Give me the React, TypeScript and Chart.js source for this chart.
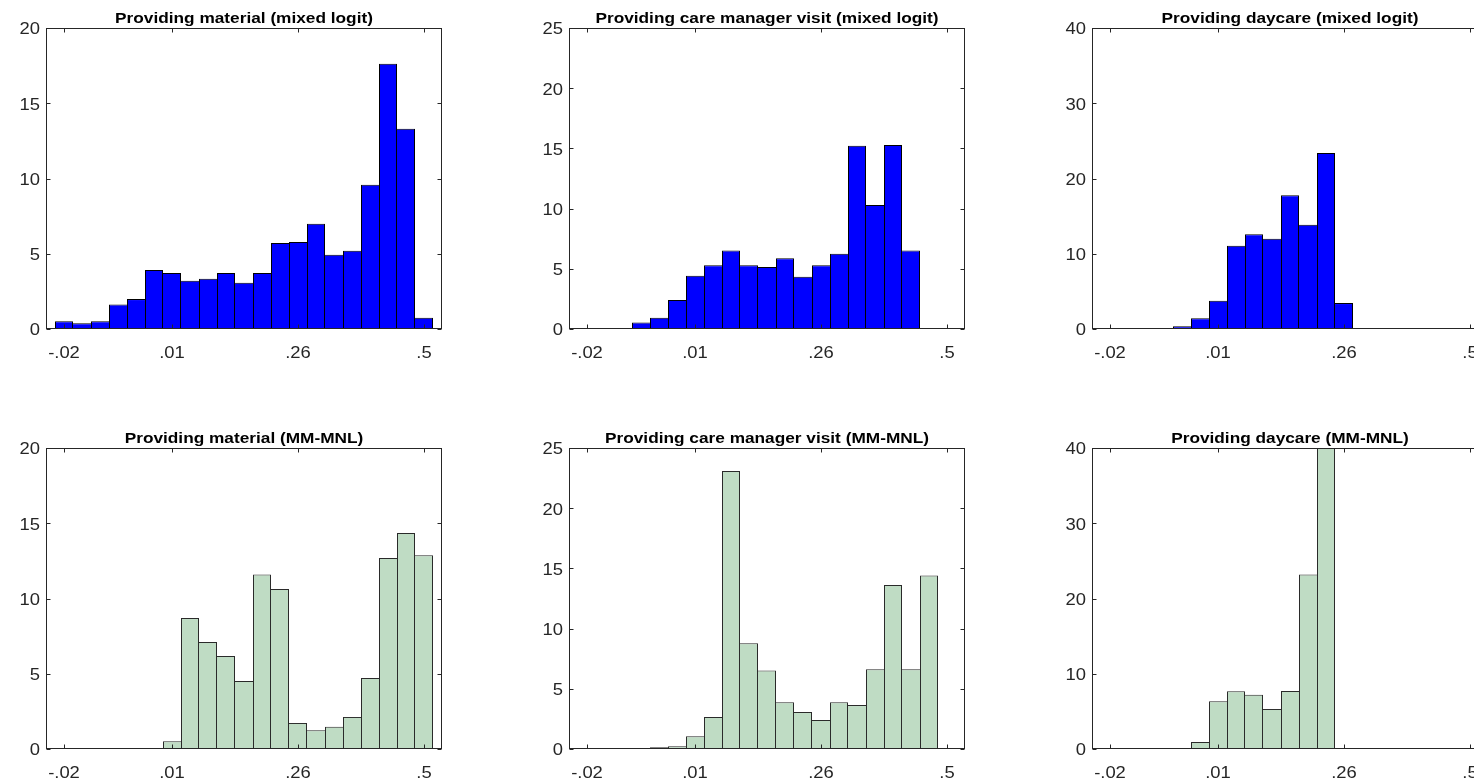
import React, { useEffect, useRef } from "react";
import { Chart, registerables } from "chart.js";

Chart.register(...registerables);

// ---- data ----
const binIndex = [0, 1, 2, 3, 4, 5, 6, 7, 8, 9, 10, 11, 12, 13, 14, 15, 16, 17, 18, 19, 20];
const xTickPositions = [0, 6, 13, 20];
const xTickLabels = ["-.02", ".01", ".26", ".5"];

const materialMixed = [0.51, 0.38, 0.51, 1.62, 1.99, 3.92, 3.72, 3.21, 3.34, 3.72, 3.08, 3.72, 5.71, 5.78, 7.0, 4.94, 5.2, 9.59, 17.63, 13.31, 0.75];
const careMixed = [0, 0.08, 0.08, 0.55, 0.94, 2.41, 4.43, 5.29, 6.51, 5.29, 5.15, 5.87, 4.35, 5.29, 6.26, 15.23, 10.3, 15.28, 6.51, 0, 0];
const daycareMixed = [0, 0, 0, 0.13, 0.35, 1.42, 3.77, 11.07, 12.6, 12.0, 17.76, 13.86, 23.39, 3.45, 0.1, 0, 0, 0, 0, 0, 0];
const materialMM = [0, 0, 0, 0, 0, 0, 0.51, 8.7, 7.11, 6.18, 4.52, 11.6, 10.63, 1.73, 1.24, 1.48, 2.13, 4.72, 12.69, 14.35, 12.87];
const careMM = [0, 0, 0, 0, 0.14, 0.22, 1.05, 2.66, 23.09, 8.78, 6.51, 3.88, 3.07, 2.41, 3.88, 3.65, 6.62, 13.62, 6.62, 14.42, 0];
const daycareMM = [0, 0, 0, 0, 0, 0.93, 6.33, 7.66, 7.22, 5.32, 7.71, 23.2, 41.6, 0, 0, 0, 0, 0, 0, 0, 0];

const titles = [
  "Providing material (mixed logit)",
  "Providing care manager visit (mixed logit)",
  "Providing daycare (mixed logit)",
  "Providing material (MM-MNL)",
  "Providing care manager visit (MM-MNL)",
  "Providing daycare (MM-MNL)",
];
const yMaxes = [20, 25, 40];
const ySteps = [5, 5, 10];

// ---- style / layout ----
const BLUE = "#0000FF";
const GREEN = "rgb(191,220,196)";
const AXIS_COLOR = "#262626";
const TEXT_COLOR = "#262626";
const FONT = '"Liberation Sans", Arial, Helvetica, sans-serif';
const HSCALE = 1.15;
const PLOT_LEFTS = [46, 569, 1092];
const PLOT_TOPS = [28, 448];
const Y_AXIS_W = 46;
const PLOT_W = 396;
const PLOT_H = 301;
const TITLE_H = 28;
const X_AXIS_H = 45;
const RIGHT_PAD = 8;

function stretchedText(ctx: any, text: string, x: number, y: number, align: string) {
  ctx.save();
  ctx.translate(x, y);
  ctx.scale(HSCALE, 1);
  ctx.textAlign = align;
  ctx.fillText(text, 0, 0);
  ctx.restore();
}

const boxPlugin = {
  id: "matlabBox",
  afterDraw(chart: any, _args: any, opts: any) {
    const { ctx, chartArea: a, scales } = chart;
    ctx.save();
    ctx.strokeStyle = AXIS_COLOR;
    ctx.lineWidth = 1;
    const L = Math.round(a.left) + 0.5;
    const R = Math.round(a.right) - 0.5;
    const T = Math.round(a.top) + 0.5;
    const B = Math.round(a.bottom) - 0.5;
    const line = (x1: number, y1: number, x2: number, y2: number) => {
      ctx.beginPath();
      ctx.moveTo(x1, y1);
      ctx.lineTo(x2, y2);
      ctx.stroke();
    };
    ctx.strokeRect(L, T, R - L, B - T);
    const tl = 4;
    // x ticks + labels
    ctx.fillStyle = TEXT_COLOR;
    ctx.font = `16px ${FONT}`;
    ctx.textBaseline = "alphabetic";
    scales.x.ticks.forEach((t: any, i: number) => {
      const x = scales.x.getPixelForValue(t.value);
      const px = Math.round(x) + 0.5;
      line(px, T, px, T + tl);
      line(px, B, px, B - tl);
      stretchedText(ctx, String(t.label), x, a.bottom + 29, "center");
    });
    // y ticks + labels
    ctx.textBaseline = "middle";
    scales.y.ticks.forEach((t: any) => {
      const y = scales.y.getPixelForValue(t.value);
      const py = Math.round(y) + 0.5;
      line(L, py, L + tl, py);
      line(R, py, R - tl, py);
      stretchedText(ctx, String(t.label), a.left - 6, y + 2, "right");
    });
    // title
    ctx.fillStyle = "#000";
    ctx.font = `bold 15px ${FONT}`;
    ctx.textBaseline = "alphabetic";
    stretchedText(ctx, opts.text, (a.left + a.right) / 2, a.top - 5.5, "center");
    ctx.restore();
  },
};

type PanelProps = {
  title: string;
  values: number[];
  fill: string;
  edge: string;
  yMax: number;
  yStep: number;
  left: number;
  top: number;
};

function Panel({ title, values, fill, edge, yMax, yStep, left, top }: PanelProps) {
  const ref = useRef<HTMLCanvasElement | null>(null);
  const W = Y_AXIS_W + PLOT_W + RIGHT_PAD;
  const H = TITLE_H + PLOT_H + X_AXIS_H;

  useEffect(() => {
    if (!ref.current) return;
    const vals = values;
    const chart = new Chart(ref.current, {
      type: "bar",
      data: {
        datasets: [
          {
            data: vals.map((v, i) => ({ x: binIndex[i], y: v })),
            backgroundColor: fill,
            borderColor: edge,
            borderWidth: (c: any) => {
              const i = c.dataIndex;
              const v = vals[i];
              const prev = i > 0 ? vals[i - 1] : null;
              const next = i < vals.length - 1 ? vals[i + 1] : null;
              return {
                top: 1,
                bottom: 1,
                left: prev === null || prev <= v ? 1 : 0,
                right: next === null || next < v ? 1 : 0,
              };
            },
            borderSkipped: false,
            inflateAmount: 0,
            barPercentage: 1,
            categoryPercentage: 1,
            clip: { left: 2, right: 2, top: 0, bottom: 2 },
          } as any,
        ],
      },
      options: {
        responsive: false,
        animation: false,
        devicePixelRatio: 1,
        layout: { padding: { left: 0, right: RIGHT_PAD, top: TITLE_H, bottom: 0 }, autoPadding: false },
        plugins: {
          legend: { display: false },
          title: { display: false },
          tooltip: { enabled: false },
          matlabBox: { text: title },
        } as any,
        scales: {
          x: {
            type: "linear",
            min: -1,
            max: 21,
            offset: false,
            grid: { display: false, drawTicks: false },
            border: { display: false },
            afterBuildTicks: (s: any) => {
              s.ticks = xTickPositions.map((v) => ({ value: v }));
            },
            afterFit: (s: any) => {
              s.height = X_AXIS_H;
            },
            ticks: {
              display: false,
              autoSkip: false,
              maxRotation: 0,
              minRotation: 0,
              callback: (_v: any, idx: number) => xTickLabels[idx],
            },
          },
          y: {
            type: "linear",
            min: 0,
            max: yMax,
            grid: { display: false, drawTicks: false },
            border: { display: false },
            afterFit: (s: any) => {
              s.width = Y_AXIS_W;
            },
            ticks: {
              display: false,
              stepSize: yStep,
            },
          },
        },
      } as any,
      plugins: [boxPlugin],
    });
    return () => chart.destroy();
  }, [title, values, fill, edge, yMax, yStep]);

  return (
    <canvas
      ref={ref}
      width={W}
      height={H}
      style={{ position: "absolute", left: left - Y_AXIS_W, top: top - TITLE_H, width: W, height: H }}
    />
  );
}

export default function App() {
  const series = [materialMixed, careMixed, daycareMixed, materialMM, careMM, daycareMM];
  return (
    <div
      style={{
        position: "fixed",
        left: 0,
        top: 0,
        width: 1474,
        height: 782,
        overflow: "hidden",
        background: "#fff",
      }}
    >
      {series.map((vals, k) => {
        const row = Math.floor(k / 3);
        const col = k % 3;
        return (
          <Panel
            key={k}
            title={titles[k]}
            values={vals}
            fill={row === 0 ? BLUE : GREEN}
            edge={row === 0 ? "#000000" : "#2a2a2a"}
            yMax={yMaxes[col]}
            yStep={ySteps[col]}
            left={PLOT_LEFTS[col]}
            top={PLOT_TOPS[row]}
          />
        );
      })}
    </div>
  );
}
